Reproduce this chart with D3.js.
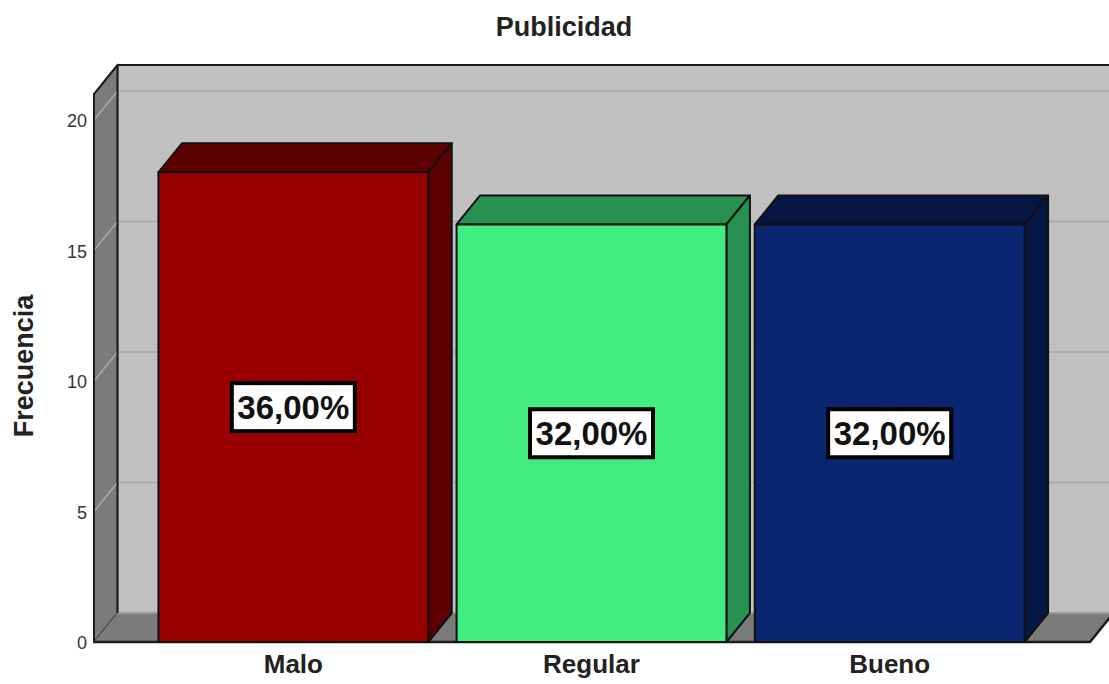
<!DOCTYPE html>
<html>
<head>
<meta charset="utf-8">
<title>Publicidad</title>
<script src="https://cdn.jsdelivr.net/npm/d3@7/dist/d3.min.js"></script>
<style>
  html, body { margin: 0; padding: 0; background: #fff; }
  svg { display: block; font-family: "Liberation Sans", Arial, sans-serif; }
</style>
</head>
<body>
<svg id="chart" width="1109" height="684"></svg>
<script>
// Survey responses per rating
const categories = ["Malo", "Regular", "Bueno"];
const counts = [18, 16, 16];
const percentLabels = ["36,00%", "32,00%", "32,00%"];
const yTicks = [0, 5, 10, 15, 20];
const faceColors = ["#990000", "#41ec80", "#0a2670"];
const shadeColors = ["#5c0000", "#269150", "#061746"];

const svg = d3.select("#chart");

// Oblique projection: the back plane sits up and to the right of the front plane
const depthX = 23.5, depthY = -29;
const edge = "#1c1c1c";

const y = d3.scaleLinear().domain([0, 21]).range([642, 94]);
const x = d3.scaleBand().domain(categories).range([143.5, 1039.5]).paddingInner(0.095).paddingOuter(0.05);

const floorRight = 1090;
const left = 94;
const poly = pts => pts.map(p => p.join(",")).join(" ");

// Back wall, running off the right side of the canvas
svg.append("rect")
  .attr("x", left + depthX).attr("y", y(21) + depthY)
  .attr("width", 1109 - left - depthX + 2).attr("height", y(0) - y(21))
  .attr("fill", "#c0c0c0");

// Left wall
svg.append("polygon")
  .attr("points", poly([[left, y(0)], [left, y(21)], [left + depthX, y(21) + depthY], [left + depthX, y(0) + depthY]]))
  .attr("fill", "#7b7b7b").attr("stroke", "#333").attr("stroke-width", 1.5);

// Floor
svg.append("polygon")
  .attr("points", poly([[left, y(0)], [floorRight, y(0)], [floorRight + depthX, y(0) + depthY], [left + depthX, y(0) + depthY]]))
  .attr("fill", "#7b7b7b");
svg.append("line")
  .attr("x1", left + depthX).attr("x2", 1109).attr("y1", y(0) + depthY).attr("y2", y(0) + depthY)
  .attr("stroke", "#9a9a9a").attr("stroke-width", 2);

// Gridlines wrap from the left wall onto the back wall
const grid = svg.append("g").attr("fill", "none").attr("stroke-width", 1.5);
grid.selectAll("path").data(yTicks.filter(d => d > 0)).join("path")
  .attr("stroke", "#a9a9a9")
  .attr("d", d => `M${left},${y(d)}L${left + depthX},${y(d) + depthY}L1109,${y(d) + depthY}`);

// Wall and floor outlines
const outline = svg.append("g").attr("fill", "none").attr("stroke", edge).attr("stroke-width", 2);
outline.append("path").attr("d",
  `M${left},${y(0)}L${left},${y(21)}L${left + depthX},${y(21) + depthY}L1109,${y(21) + depthY}`);
outline.append("path").attr("d",
  `M${left + depthX},${y(21) + depthY}L${left + depthX},${y(0) + depthY}`);
outline.append("path").attr("stroke-width", 2.5).attr("d",
  `M${left},${y(0)}L${floorRight},${y(0)}L${floorRight + depthX},${y(0) + depthY}`);

// Extruded bars: front face, top and side
const bars = svg.append("g").selectAll("g").data(categories).join("g")
  .attr("stroke", "#111").attr("stroke-width", 2).attr("stroke-linejoin", "round");

bars.append("polygon")
  .attr("fill", (d, i) => shadeColors[i])
  .attr("points", (d, i) => {
    const x0 = x(d), x1 = x0 + x.bandwidth(), top = y(counts[i]);
    return poly([[x0, top], [x0 + depthX, top + depthY], [x1 + depthX, top + depthY], [x1, top]]);
  });
bars.append("polygon")
  .attr("fill", (d, i) => shadeColors[i])
  .attr("points", (d, i) => {
    const x1 = x(d) + x.bandwidth(), top = y(counts[i]);
    return poly([[x1, top], [x1 + depthX, top + depthY], [x1 + depthX, y(0) + depthY], [x1, y(0)]]);
  });
bars.append("rect")
  .attr("fill", (d, i) => faceColors[i])
  .attr("x", d => x(d)).attr("width", x.bandwidth())
  .attr("y", (d, i) => y(counts[i])).attr("height", (d, i) => y(0) - y(counts[i]));

// Percentage badges centred on each bar's front face
const boxW = 123, boxH = 48;
const badges = svg.append("g").selectAll("g").data(categories).join("g")
  .attr("transform", (d, i) => `translate(${x(d) + x.bandwidth() / 2},${(y(0) + y(counts[i])) / 2})`);
badges.append("rect")
  .attr("x", -boxW / 2).attr("y", -boxH / 2).attr("width", boxW).attr("height", boxH)
  .attr("fill", "#fff").attr("stroke", "#000").attr("stroke-width", 4);
badges.append("text")
  .attr("text-anchor", "middle").attr("dy", "0.36em")
  .attr("font-size", 33).attr("font-weight", "bold").attr("fill", "#111")
  .text((d, i) => percentLabels[i]);

// Value axis
const yAxis = d3.axisLeft(y).tickValues(yTicks).tickSize(0).tickPadding(7);
const yG = svg.append("g").attr("transform", `translate(${left},1)`).call(yAxis);
yG.select(".domain").remove();
yG.selectAll("text").attr("font-size", 18).attr("font-family", "inherit").attr("fill", "#333");

// Category axis
const xAxis = d3.axisBottom(x).tickSize(0).tickPadding(0);
const xG = svg.append("g").attr("transform", "translate(0,655)").call(xAxis);
xG.select(".domain").remove();
xG.selectAll("text").attr("font-size", 26).attr("font-weight", "bold").attr("font-family", "inherit").attr("fill", "#222");

// Title and value axis caption
svg.append("text").attr("x", 564).attr("y", 36).attr("text-anchor", "middle")
  .attr("font-size", 27).attr("font-weight", "bold").attr("fill", "#222").text("Publicidad");
svg.append("text").attr("transform", "translate(33,366) rotate(-90)").attr("text-anchor", "middle")
  .attr("font-size", 27).attr("font-weight", "bold").attr("fill", "#222").text("Frecuencia");
</script>
</body>
</html>
